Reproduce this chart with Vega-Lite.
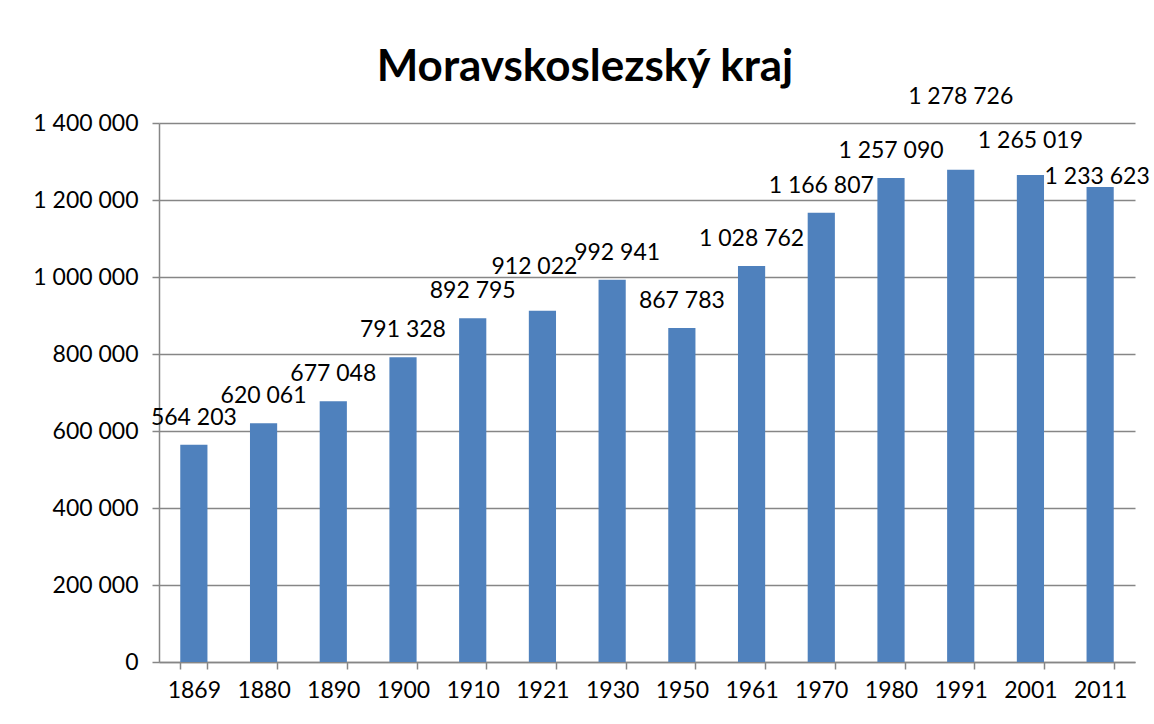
{
  "$schema": "https://vega.github.io/schema/vega-lite/v6.json",
  "autosize": "none",
  "width": 976,
  "height": 539,
  "padding": {"left": 159, "top": 123, "right": 19, "bottom": 62},
  "background": "white",
  "title": {
    "text": "Moravskoslezský kraj",
    "font": "Lato",
    "fontSize": 44,
    "fontWeight": "bold",
    "color": "black",
    "anchor": "middle",
    "dx": -62,
    "dy": 30,
    "offset": 26
  },
  "config": {
    "locale": {"number": {"decimal": ",", "thousands": " ", "grouping": [3], "currency": ["", ""]}},
    "view": {"stroke": null},
    "axis": {
      "labelFont": "Lato",
      "labelFontSize": 23,
      "labelColor": "black",
      "domainColor": "#868686",
      "tickColor": "#868686",
      "gridColor": "#868686",
      "domainWidth": 1.5,
      "tickWidth": 1.5,
      "gridWidth": 1.5,
      "tickSize": 7
    }
  },
  "data": {
    "values": [
      {"rok": "1869", "obyvatel": 564203},
      {"rok": "1880", "obyvatel": 620061},
      {"rok": "1890", "obyvatel": 677048},
      {"rok": "1900", "obyvatel": 791328},
      {"rok": "1910", "obyvatel": 892795},
      {"rok": "1921", "obyvatel": 912022},
      {"rok": "1930", "obyvatel": 992941},
      {"rok": "1950", "obyvatel": 867783},
      {"rok": "1961", "obyvatel": 1028762},
      {"rok": "1970", "obyvatel": 1166807},
      {"rok": "1980", "obyvatel": 1257090},
      {"rok": "1991", "obyvatel": 1278726},
      {"rok": "2001", "obyvatel": 1265019},
      {"rok": "2011", "obyvatel": 1233623}
    ]
  },
  "encoding": {
    "x": {
      "field": "rok",
      "type": "ordinal",
      "sort": null,
      "scale": {"paddingInner": 0.61, "paddingOuter": 0.305},
      "axis": {"title": null, "labelAngle": 0, "tickBand": "extent", "labelPadding": 10, "grid": false}
    },
    "y": {
      "field": "obyvatel",
      "type": "quantitative",
      "scale": {"domain": [0, 1400000], "nice": false},
      "axis": {"title": null, "values": [0, 200000, 400000, 600000, 800000, 1000000, 1200000, 1400000], "format": ",d", "labelPadding": 14, "grid": true}
    }
  },
  "layer": [
    {"mark": {"type": "bar", "color": "#4F81BD"}},
    {
      "mark": {
        "type": "text",
        "font": "Lato",
        "fontSize": 23,
        "color": "black",
        "baseline": "middle",
        "dx": {"expr": "datum.rok == '1921' ? -8 : datum.rok == '1930' ? 5 : datum.rok == '2011' ? -3 : 0"},
        "dy": {"expr": "datum.rok == '1921' ? -44 : datum.rok == '1991' ? -73 : datum.rok == '2001' ? -34 : datum.rok == '2011' ? -10 : -27"}
      },
      "encoding": {"text": {"field": "obyvatel", "type": "quantitative", "format": ",d"}}
    }
  ]
}
